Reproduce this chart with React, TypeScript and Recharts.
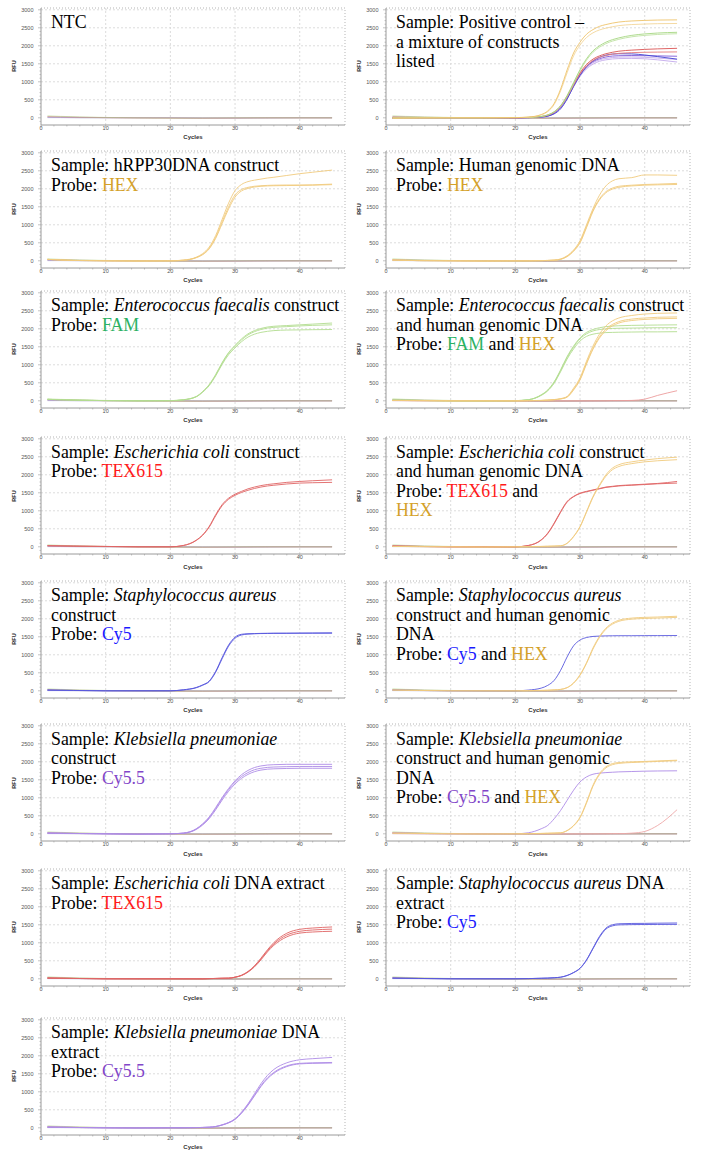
import React from 'react';
import { LineChart, Line, XAxis, YAxis, ReferenceLine } from 'recharts';

// cycles used for the amplification curves and for the flat baseline traces
const CYC = [1, 5, 10, 15, 20, 22, 24, 25, 26, 27, 28, 29, 30, 31, 32, 33, 34, 35, 36, 38, 40, 42, 45];
const BASE_CYC = [1, 3, 6, 10, 15, 20, 25, 30, 35, 40, 45];

const X_MAJOR = [0, 10, 20, 30, 40];
const Y_MAJOR = [0, 500, 1000, 1500, 2000, 2500, 3000];

// flat (non-amplifying) traces
const baseGreen = [55, 40, 25, 10, 0, -5, -5, 0, 0, 0, 0];
const baseRed = [35, 30, 15, 5, 0, -5, -10, -5, 0, 0, 0];
const basePurple = [25, 20, 10, 5, 0, 0, -5, -5, -5, 0, 0];
const baseYellow = [15, 10, 5, 0, -10, -15, -15, -10, -5, -5, -5];
const baseBlue = [5, 5, 0, 0, 0, 0, -5, -5, 0, 0, 0];

// Positive control
const pcHex1 = [-10, -5, 0, 0, 5, 20, 90, 190, 400, 800, 1330, 1800, 2100, 2320, 2450, 2540, 2590, 2630, 2660, 2690, 2705, 2715, 2720];
const pcHex2 = [-10, -5, 0, 0, 5, 15, 80, 170, 370, 750, 1250, 1720, 2020, 2230, 2360, 2440, 2490, 2530, 2560, 2590, 2605, 2615, 2620];
const pcFam1 = [-5, 0, 0, 0, 5, 10, 40, 80, 170, 340, 620, 980, 1340, 1640, 1860, 2000, 2100, 2170, 2220, 2290, 2330, 2355, 2375];
const pcFam2 = [-5, 0, 0, 0, 5, 10, 35, 75, 160, 320, 590, 940, 1300, 1600, 1820, 1960, 2060, 2130, 2180, 2250, 2290, 2315, 2335];
const pcTex1 = [-5, 0, 0, 0, 0, 10, 35, 75, 160, 330, 600, 940, 1250, 1480, 1630, 1720, 1780, 1820, 1850, 1880, 1900, 1915, 1930];
const pcTex2 = [-5, 0, 0, 0, 0, 10, 30, 70, 150, 310, 580, 910, 1220, 1440, 1590, 1680, 1730, 1770, 1790, 1810, 1820, 1825, 1830];
const pcCy5 = [-10, -5, 0, 0, 0, 5, 20, 45, 110, 250, 520, 870, 1180, 1420, 1580, 1680, 1740, 1770, 1780, 1775, 1745, 1700, 1630];
const pcCy55a = [-10, -5, 0, 0, 0, 5, 25, 55, 130, 290, 560, 900, 1200, 1420, 1560, 1640, 1690, 1715, 1725, 1730, 1725, 1720, 1710];
const pcCy55b = [-10, -5, 0, 0, 0, 5, 20, 50, 120, 270, 530, 860, 1150, 1360, 1490, 1570, 1610, 1635, 1645, 1650, 1640, 1610, 1550];
const pcCy55c = [-10, -5, 0, 0, 0, 5, 20, 50, 120, 270, 530, 870, 1170, 1390, 1530, 1610, 1650, 1675, 1685, 1690, 1680, 1660, 1620];

// hRPP30 construct
const hr1 = [40, 10, 0, -5, 0, 20, 100, 200, 380, 700, 1150, 1600, 1950, 2120, 2200, 2240, 2270, 2300, 2320, 2370, 2420, 2460, 2520];
const hr2 = [40, 10, 0, -5, 0, 15, 90, 180, 350, 650, 1080, 1500, 1830, 1980, 2040, 2070, 2085, 2095, 2100, 2105, 2105, 2110, 2130];
const hr3 = [40, 10, 0, -5, 0, 15, 85, 170, 330, 620, 1030, 1440, 1770, 1940, 2010, 2050, 2070, 2080, 2085, 2090, 2095, 2100, 2115];

// Human genomic DNA
const hg1 = [20, 5, 0, -5, 0, 0, 5, 10, 20, 50, 140, 300, 560, 1000, 1450, 1820, 2080, 2220, 2280, 2310, 2385, 2385, 2375];
const hg2 = [20, 5, 0, -5, 0, 0, 5, 10, 20, 45, 125, 280, 520, 950, 1400, 1720, 1920, 2020, 2070, 2100, 2120, 2130, 2150];
const hg3 = [20, 5, 0, -5, 0, 0, 5, 10, 15, 40, 115, 265, 500, 920, 1370, 1690, 1890, 1990, 2040, 2080, 2100, 2110, 2120];

// Enterococcus faecalis construct
const ef1 = [40, 20, 5, 0, 5, 30, 120, 260, 450, 730, 1060, 1340, 1540, 1720, 1860, 1950, 2010, 2050, 2070, 2090, 2110, 2130, 2160];
const ef2 = [40, 20, 5, 0, 5, 28, 115, 250, 440, 710, 1040, 1320, 1510, 1690, 1830, 1920, 1980, 2020, 2040, 2060, 2080, 2095, 2110];
const ef3 = [40, 20, 5, 0, 5, 25, 110, 240, 420, 690, 1010, 1280, 1470, 1640, 1770, 1850, 1900, 1930, 1950, 1965, 1970, 1975, 1980];

// Enterococcus faecalis construct + human genomic DNA
const efg1 = [20, 10, 0, 0, 5, 30, 166, 300, 530, 860, 1230, 1520, 1750, 1900, 1980, 2030, 2060, 2075, 2085, 2095, 2100, 2105, 2110];
const efg2 = [20, 10, 0, 0, 5, 30, 160, 290, 510, 840, 1200, 1490, 1720, 1860, 1940, 1980, 2000, 2010, 2015, 2020, 2025, 2030, 2030];
const efg3 = [20, 10, 0, 0, 5, 28, 150, 275, 490, 810, 1160, 1440, 1660, 1790, 1850, 1880, 1895, 1900, 1905, 1910, 1915, 1915, 1920];
const efh1 = [10, 5, 0, 0, 0, 5, 10, 20, 35, 60, 120, 350, 640, 1100, 1520, 1850, 2080, 2220, 2300, 2370, 2410, 2430, 2440];
const efh2 = [10, 5, 0, 0, 0, 5, 10, 18, 30, 55, 110, 320, 600, 1050, 1460, 1780, 1990, 2120, 2200, 2270, 2300, 2320, 2330];
const efh3 = [10, 5, 0, 0, 0, 5, 10, 18, 30, 50, 100, 300, 580, 1020, 1430, 1740, 1950, 2080, 2160, 2230, 2260, 2280, 2290];
const efRed = [5, 0, 0, 0, 0, 0, 0, 0, 0, 0, 0, 0, 0, 0, 0, 0, 0, 5, 5, 10, 46, 150, 280];

// Escherichia coli construct
const ec1 = [30, 20, 10, 0, 0, 37, 185, 333, 565, 890, 1170, 1350, 1460, 1540, 1610, 1660, 1700, 1730, 1750, 1790, 1815, 1835, 1860];
const ec2 = [30, 20, 10, 0, 0, 35, 175, 320, 545, 860, 1140, 1320, 1430, 1510, 1570, 1620, 1660, 1690, 1710, 1745, 1770, 1780, 1790];

// Escherichia coli construct + human genomic DNA
const ecr1 = [20, 10, 0, 0, 0, 37, 195, 380, 660, 980, 1260, 1400, 1490, 1540, 1580, 1620, 1660, 1680, 1700, 1720, 1740, 1760, 1815];
const ecr2 = [20, 10, 0, 0, 0, 35, 185, 365, 640, 960, 1240, 1390, 1480, 1530, 1570, 1610, 1650, 1670, 1690, 1710, 1730, 1750, 1770];
const ech1 = [10, 5, 0, -5, 0, 5, 10, 15, 20, 28, 100, 290, 565, 980, 1400, 1720, 2000, 2185, 2280, 2360, 2410, 2450, 2490];
const ech2 = [10, 5, 0, -5, 0, 5, 10, 15, 20, 28, 95, 280, 550, 960, 1370, 1690, 1960, 2140, 2230, 2310, 2360, 2390, 2420];

// Staphylococcus aureus construct
const sa1 = [20, 10, 0, 0, 0, 28, 92, 165, 270, 540, 920, 1270, 1490, 1570, 1585, 1590, 1595, 1598, 1600, 1600, 1602, 1605, 1610];
const sa2 = [20, 10, 0, 0, 0, 25, 85, 155, 255, 515, 890, 1240, 1460, 1550, 1575, 1585, 1590, 1592, 1595, 1597, 1600, 1600, 1600];

// Staphylococcus aureus construct + human genomic DNA
const sab = [20, 10, 0, 0, 0, 20, 75, 150, 290, 570, 940, 1250, 1410, 1480, 1510, 1520, 1525, 1528, 1530, 1530, 1532, 1533, 1535];
const sah1 = [20, 10, 0, 0, 0, 5, 10, 15, 25, 40, 90, 220, 450, 780, 1190, 1510, 1740, 1880, 1960, 2020, 2040, 2050, 2070];
const sah2 = [20, 10, 0, 0, 0, 5, 10, 15, 25, 38, 85, 210, 430, 760, 1160, 1480, 1710, 1850, 1930, 1990, 2010, 2020, 2040];

// Klebsiella pneumoniae construct
const kp1 = [20, 10, 0, -10, 0, 20, 140, 280, 466, 727, 1006, 1258, 1472, 1640, 1760, 1840, 1885, 1910, 1920, 1930, 1930, 1930, 1930];
const kp2 = [20, 10, 0, -10, 0, 18, 130, 265, 445, 700, 975, 1225, 1435, 1590, 1700, 1780, 1820, 1845, 1855, 1865, 1870, 1870, 1870];
const kp3 = [20, 10, 0, -10, 0, 15, 120, 245, 420, 665, 935, 1180, 1385, 1540, 1650, 1725, 1770, 1795, 1805, 1815, 1820, 1820, 1820];

// Klebsiella pneumoniae construct + human genomic DNA
const kpp = [30, 10, 0, -5, 0, 28, 140, 232, 418, 650, 930, 1210, 1440, 1580, 1655, 1685, 1700, 1710, 1720, 1730, 1740, 1745, 1750];
const kph1 = [20, 10, 0, -5, 0, 5, 10, 15, 20, 28, 93, 232, 465, 880, 1350, 1670, 1860, 1950, 1980, 2000, 2010, 2025, 2045];
const kph2 = [20, 10, 0, -5, 0, 5, 10, 15, 20, 25, 85, 220, 445, 850, 1320, 1640, 1830, 1920, 1955, 1980, 1995, 2010, 2030];
const kpRed = [5, 0, 0, 0, 0, 0, 0, 0, 0, 0, 0, 0, 0, 0, 0, 0, 0, 5, 5, 18, 65, 232, 670];

// Escherichia coli DNA extract
const ece1 = [20, 10, 0, 0, 0, 0, 0, 0, 5, 10, 15, 18, 46, 100, 203, 360, 572, 803, 1006, 1265, 1375, 1410, 1440];
const ece2 = [20, 10, 0, 0, 0, 0, 0, 0, 5, 10, 15, 18, 44, 95, 195, 345, 550, 775, 970, 1215, 1320, 1355, 1380];
const ece3 = [20, 10, 0, 0, 0, 0, 0, 0, 5, 10, 15, 17, 42, 90, 185, 330, 525, 745, 930, 1165, 1270, 1300, 1320];

// Staphylococcus aureus DNA extract
const sae1 = [20, 10, 0, 0, 0, 5, 15, 20, 30, 46, 93, 176, 296, 528, 852, 1176, 1407, 1500, 1528, 1537, 1540, 1545, 1550];
const sae2 = [20, 10, 0, 0, 0, 5, 15, 20, 30, 44, 90, 170, 288, 515, 835, 1150, 1380, 1470, 1498, 1505, 1508, 1510, 1512];

// Klebsiella pneumoniae DNA extract
const kpe1 = [20, 10, 0, -5, 0, 0, 5, 10, 18, 37, 83, 148, 250, 435, 667, 945, 1222, 1454, 1620, 1805, 1890, 1920, 1955];
const kpe2 = [20, 10, 0, -5, 0, 0, 5, 10, 16, 34, 78, 140, 238, 415, 640, 905, 1170, 1385, 1540, 1720, 1790, 1805, 1815];
const kpe3 = [20, 10, 0, -5, 0, 0, 5, 10, 16, 33, 76, 137, 232, 405, 625, 885, 1145, 1360, 1515, 1700, 1775, 1790, 1800];

// probe colours (title text) and curve colours
const T_HEX = '#D4A12A';
const T_FAM = '#2BB163';
const T_TEX = '#FF1A1A';
const T_CY5 = '#1A1AFF';
const T_CY55 = '#8246C8';

const C_HEX = '#F0CB7E';
const C_FAM = '#B2DC90';
const C_TEX = '#E06464';
const C_CY5 = '#5858DE';
const C_CY55 = '#AE8BE6';
const C_LAV = '#C3A9EC';

const ROW_Y = [9.3, 152.3, 292.3, 439, 582.3, 726, 870.7, 1019.3];

const CW = 350;
const CH = 152;
const PLOT_LEFT = 41;
const PLOT_TOP = 8;
const PLOT_H = 117;
const PLOT_BOTTOM = PLOT_TOP + PLOT_H;
const X_TICKS = Array.from({ length: 24 }, (_, i) => i * 2);
const Y_TICKS = Array.from({ length: 32 }, (_, i) => i * 100 - 100);

const toPts = (xs: number[], vs: number[]) => xs.map((c, i) => ({ c, v: vs[i] }));
const rise = (vals: number[], color: string) => ({ pts: toPts(CYC, vals), color, op: 1 });
const flat = (vals: number[], color: string) => ({ pts: toPts(BASE_CYC, vals), color, op: 0.55 });

const baselines = [
  flat(baseYellow, '#E9D27E'),
  flat(baseBlue, '#7474DA'),
  flat(basePurple, '#A676CC'),
  flat(baseRed, '#D47676'),
  flat(baseGreen, '#A8D47C'),
];

type Seg = { t: string; i?: boolean; c?: string };
const s = (t: string): Seg => ({ t });
const it = (t: string): Seg => ({ t, i: true });
const col = (t: string, c: string): Seg => ({ t, c });

const PANELS = [
  { row: 0, col: 0, title: [[s('NTC')]], curves: [] },
  {
    row: 0, col: 1,
    title: [[s('Sample: Positive control –')], [s('a mixture of constructs')], [s('listed')]],
    curves: [
      rise(pcCy55b, C_LAV), rise(pcCy55c, C_LAV), rise(pcCy55a, '#7E58D8'), rise(pcCy5, '#4242D2'),
      rise(pcTex2, '#E47C7C'), rise(pcTex1, '#DA5252'),
      rise(pcFam2, '#C0E2A4'), rise(pcFam1, '#A6D782'),
      rise(pcHex2, '#F3D69A'), rise(pcHex1, '#EEC36A'),
    ],
  },
  {
    row: 1, col: 0,
    title: [[s('Sample: hRPP30DNA construct')], [s('Probe: '), col('HEX', T_HEX)]],
    curves: [rise(hr3, C_HEX), rise(hr2, C_HEX), rise(hr1, C_HEX)],
  },
  {
    row: 1, col: 1,
    title: [[s('Sample: Human genomic DNA')], [s('Probe: '), col('HEX', T_HEX)]],
    curves: [rise(hg3, C_HEX), rise(hg2, C_HEX), rise(hg1, C_HEX)],
  },
  {
    row: 2, col: 0,
    title: [[s('Sample: '), it('Enterococcus faecalis'), s(' construct')], [s('Probe: '), col('FAM', T_FAM)]],
    curves: [rise(ef3, C_FAM), rise(ef2, C_FAM), rise(ef1, C_FAM)],
  },
  {
    row: 2, col: 1,
    title: [
      [s('Sample: '), it('Enterococcus faecalis'), s(' construct')],
      [s('and human genomic DNA')],
      [s('Probe: '), col('FAM', T_FAM), s(' and '), col('HEX', T_HEX)],
    ],
    curves: [
      rise(efRed, '#EC9C9C'),
      rise(efg3, C_FAM), rise(efg2, C_FAM), rise(efg1, C_FAM),
      rise(efh3, C_HEX), rise(efh2, C_HEX), rise(efh1, C_HEX),
    ],
  },
  {
    row: 3, col: 0,
    title: [[s('Sample: '), it('Escherichia coli'), s(' construct')], [s('Probe: '), col('TEX615', T_TEX)]],
    curves: [rise(ec2, C_TEX), rise(ec1, C_TEX)],
  },
  {
    row: 3, col: 1,
    title: [
      [s('Sample: '), it('Escherichia coli'), s(' construct')],
      [s('and human genomic DNA')],
      [s('Probe: '), col('TEX615', T_TEX), s(' and')],
      [col('HEX', T_HEX)],
    ],
    curves: [rise(ecr2, C_TEX), rise(ecr1, C_TEX), rise(ech2, C_HEX), rise(ech1, C_HEX)],
  },
  {
    row: 4, col: 0,
    title: [[s('Sample: '), it('Staphylococcus aureus')], [s('construct')], [s('Probe: '), col('Cy5', T_CY5)]],
    curves: [rise(sa2, C_CY5), rise(sa1, C_CY5)],
  },
  {
    row: 4, col: 1,
    title: [
      [s('Sample: '), it('Staphylococcus aureus')],
      [s('construct and human genomic')],
      [s('DNA')],
      [s('Probe: '), col('Cy5', T_CY5), s(' and '), col('HEX', T_HEX)],
    ],
    curves: [rise(sab, C_CY5), rise(sah2, C_HEX), rise(sah1, C_HEX)],
  },
  {
    row: 5, col: 0,
    title: [[s('Sample: '), it('Klebsiella pneumoniae')], [s('construct')], [s('Probe: '), col('Cy5.5', T_CY55)]],
    curves: [rise(kp3, C_CY55), rise(kp2, C_CY55), rise(kp1, C_CY55)],
  },
  {
    row: 5, col: 1,
    title: [
      [s('Sample: '), it('Klebsiella pneumoniae')],
      [s('construct and human genomic')],
      [s('DNA')],
      [s('Probe: '), col('Cy5.5', T_CY55), s(' and '), col('HEX', T_HEX)],
    ],
    curves: [rise(kpRed, '#EEA8A8'), rise(kpp, C_CY55), rise(kph2, C_HEX), rise(kph1, C_HEX)],
  },
  {
    row: 6, col: 0,
    title: [[s('Sample: '), it('Escherichia coli'), s(' DNA extract')], [s('Probe: '), col('TEX615', T_TEX)]],
    curves: [rise(ece3, C_TEX), rise(ece2, C_TEX), rise(ece1, C_TEX)],
  },
  {
    row: 6, col: 1,
    title: [[s('Sample: '), it('Staphylococcus aureus'), s(' DNA')], [s('extract')], [s('Probe: '), col('Cy5', T_CY5)]],
    curves: [rise(sae2, C_CY5), rise(sae1, C_CY5)],
  },
  {
    row: 7, col: 0,
    title: [[s('Sample: '), it('Klebsiella pneumoniae'), s(' DNA')], [s('extract')], [s('Probe: '), col('Cy5.5', T_CY55)]],
    curves: [rise(kpe3, C_CY55), rise(kpe2, C_CY55), rise(kpe1, C_CY55)],
  },
];

const AXIS_FONT = '"Liberation Sans", Arial, sans-serif';
const TITLE_FONT = '"Liberation Serif", "Times New Roman", Times, serif';

const yTick = (props: any) => {
  const { y, payload } = props;
  const v = payload.value;
  const major = v % 500 === 0;
  return (
    <g>
      <line x1={PLOT_LEFT - (major ? 3 : 1.5)} x2={PLOT_LEFT} y1={y} y2={y} stroke="#9a9a9a" strokeWidth={0.6} />
      {major && (
        <text x={33.5} y={y + 2} textAnchor="end" fontSize={5.5} fill="#555" fontFamily={AXIS_FONT}>
          {v}
        </text>
      )}
    </g>
  );
};

const xTick = (props: any) => {
  const { x, payload } = props;
  const v = payload.value;
  const major = v % 10 === 0;
  return (
    <g>
      <line x1={x} x2={x} y1={PLOT_BOTTOM} y2={PLOT_BOTTOM + (major ? 3 : 1.5)} stroke="#9a9a9a" strokeWidth={0.6} />
      {major && (
        <text x={x} y={PLOT_BOTTOM + 4.5} textAnchor="middle" fontSize={5.5} fill="#555" fontFamily={AXIS_FONT}>
          {v}
        </text>
      )}
    </g>
  );
};

const Panel = ({ p }: { p: any }) => {
  const left = p.col * 345;
  const top = ROW_Y[p.row] - 9.8;
  return (
    <div style={{ position: 'absolute', left, top, width: CW, height: CH }}>
      <LineChart width={CW} height={CH} margin={{ top: PLOT_TOP, right: 5, bottom: 0, left: 8 }}>
        <XAxis
          type="number"
          dataKey="c"
          domain={[0, 47]}
          ticks={X_TICKS}
          interval={0}
          tick={xTick}
          tickLine={false}
          axisLine={{ stroke: '#9a9a9a' }}
          height={CH - PLOT_BOTTOM}
        />
        <YAxis
          type="number"
          domain={[-200, 3050]}
          ticks={Y_TICKS}
          interval={0}
          tick={yTick}
          tickLine={false}
          axisLine={{ stroke: '#9a9a9a' }}
          width={33}
        />
        {X_MAJOR.filter((v) => v > 0).map((v) => (
          <ReferenceLine key={'gx' + v} x={v} stroke="#dcdcdc" strokeDasharray="2 2" />
        ))}
        {Y_MAJOR.filter((v) => v > 0).map((v) => (
          <ReferenceLine key={'gy' + v} y={v} stroke="#dcdcdc" strokeDasharray="2 2" />
        ))}
        <ReferenceLine y={3050} stroke="#b5b5b5" strokeDasharray="1 2" />
        <ReferenceLine x={47} stroke="#b5b5b5" strokeDasharray="1 2" />
        {baselines.concat(p.curves).map((cv: any, i: number) => (
          <Line
            key={i}
            data={cv.pts}
            dataKey="v"
            type="monotone"
            stroke={cv.color}
            strokeOpacity={cv.op}
            strokeWidth={0.9}
            dot={false}
            activeDot={false}
            isAnimationActive={false}
          />
        ))}
      </LineChart>
      <div
        style={{
          position: 'absolute',
          left: 15,
          top: PLOT_TOP + PLOT_H / 2,
          transform: 'translate(-50%, -50%) rotate(-90deg)',
          fontFamily: AXIS_FONT,
          fontSize: 5.5,
          fontWeight: 'bold',
          color: '#333',
          lineHeight: 1,
        }}
      >
        RFU
      </div>
      <div
        style={{
          position: 'absolute',
          left: PLOT_LEFT + 152,
          top: PLOT_BOTTOM + 12.5,
          transform: 'translate(-50%, -50%)',
          fontFamily: AXIS_FONT,
          fontSize: 6,
          fontWeight: 'bold',
          color: '#333',
          lineHeight: 1,
        }}
      >
        Cycles
      </div>
      <div
        style={{
          position: 'absolute',
          left: PLOT_LEFT + 10,
          top: 13.6,
          fontFamily: TITLE_FONT,
          fontSize: 17.8,
          lineHeight: '19.5px',
          color: '#000',
          whiteSpace: 'nowrap',
        }}
      >
        {p.title.map((line: Seg[], li: number) => (
          <div key={li}>
            {line.map((sg, si) => (
              <span key={si} style={{ fontStyle: sg.i ? 'italic' : 'normal', color: sg.c || '#000' }}>
                {sg.t}
              </span>
            ))}
          </div>
        ))}
      </div>
    </div>
  );
};

const App = () => {
  return (
    <div style={{ position: 'absolute', left: 0, top: 0, width: 702, height: 1150, background: '#fff', overflow: 'hidden' }}>
      {PANELS.map((p, i) => (
        <Panel key={i} p={p} />
      ))}
    </div>
  );
};

export default App;
